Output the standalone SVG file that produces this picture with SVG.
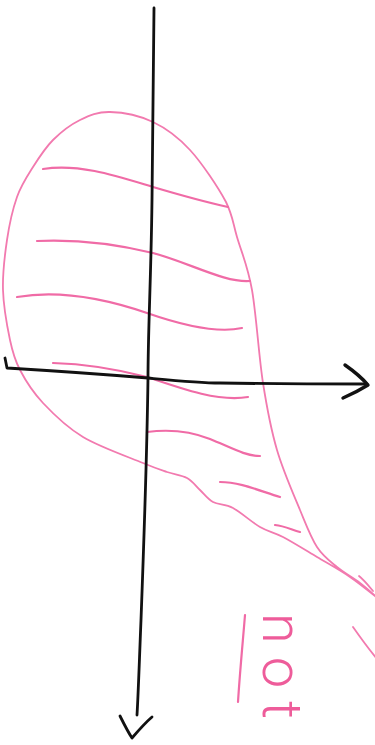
<svg xmlns="http://www.w3.org/2000/svg" width="375" height="745" viewBox="0 0 375 745">
<style>
.pk{fill:none;stroke:#f27aaf;stroke-width:1.8;stroke-linecap:round;stroke-linejoin:round}
.ht{fill:none;stroke:#f06ba6;stroke-width:2.2;stroke-linecap:round;stroke-linejoin:round}
.ax{fill:none;stroke:#111;stroke-width:2.8;stroke-linecap:round;stroke-linejoin:round}
.lbl{font-family:Roboto,"Liberation Sans",sans-serif;font-weight:300;font-size:56px;fill:#ee5c9a}
</style>
<rect width="375" height="745" fill="#fff"/>
<g id="region">
<path class="pk" d="M380,600 C376.7,597.2 367.2,588.5 360,583 C352.8,577.5 344.2,573 337,567 C329.8,561 323.2,556.5 317,547 C310.8,537.5 306.7,526.2 300,510 C293.3,493.8 283.2,471.2 277,450 C270.8,428.8 267.2,409.7 263,383 C258.8,356.3 256.3,314.3 252,290 C247.7,265.7 241.3,251.7 237,237 C232.7,222.3 233,216.5 226,202 C218.2,187.5 202.2,163.3 190,150 C177.8,136.7 166.3,128.3 153,122 C139.7,115.7 122.2,112.3 110,112 C97.8,111.7 89.5,115.3 80,120 C70.5,124.7 60.8,132.2 53,140 C45.2,147.8 39,157.5 33,167 C27,176.5 21.3,184.8 17,197 C12.7,209.2 9.3,224.5 7,240 C4.7,255.5 2.5,273.3 3,290 C3.5,306.7 7.2,326.7 10,340 C12.8,353.3 14.5,359.5 20,370 C25.5,380.5 32.5,391.8 43,403 C53.5,414.2 66.3,427 83,437 C99.7,447 129,457.2 143,463 C157,468.8 159.7,469.5 167,472 C174.3,474.5 181.5,475 187,478 C192.5,481 195.7,486 200,490 C204.3,494 207.5,499 213,502 C218.5,505 225.2,503.8 233,508 C240.8,512.2 251.7,522.2 260,527 C268.3,531.8 273.5,532 283,537 C292.5,542 305.8,550.3 317,557 C328.2,563.7 339.5,569.8 350,577 C360.5,584.2 375,596.2 380,600"/>
<path class="pk" d="M359,576 C364,580 368,585 373,591"/>
<path class="pk" d="M353,627 C360,637 368,648 377,659"/>
</g>
<g id="hatching">
<path class="ht" d="M43,169 C80,163 120,177 153,187 C180,195 210,203 228,207"/>
<path class="ht" d="M37,241 C80,239 120,245 153,253 C190,263 225,283 250,281"/>
<path class="ht" d="M17,297 C40,293 80,290 147,313 C190,328 220,333 242,328"/>
<path class="ht" d="M53,363 C90,364 120,370 147,377 C185,390 220,402 248,397"/>
<path class="ht" d="M147,432 C170,429 190,431 210,439 C230,447 245,456 260,456"/>
<path class="ht" d="M220,482 C240,482 260,491 280,497"/>
<path class="ht" d="M275,525 C285,526 292,530 300,532"/>
</g>
<g id="axes">
<path class="ax" d="M154,8 C153,60 153,120 152,200 C151,280 148,330 148,378 C147,450 144,540 141,620 C139,670 138,700 137,715"/>
<path class="ax" d="M120,716 C124,724 128,732 132,738 C138,731 145,723 152,717"/>
<path class="ax" d="M5,358 L7,368 C40,370 100,374 148,378 C180,381 200,383 220,383 C280,384 330,384 367,384"/>
<path class="ax" style="stroke-width:3.4" d="M345,365 C355,372 362,378 368,385 C360,390 350,395 343,398"/>
</g>
<g id="note">
<path class="ht" d="M245,615 C243,640 240,670 238,702"/>
<text class="lbl" transform="translate(263,613) rotate(90)" textLength="106" lengthAdjust="spacing">not</text>
</g>
</svg>
